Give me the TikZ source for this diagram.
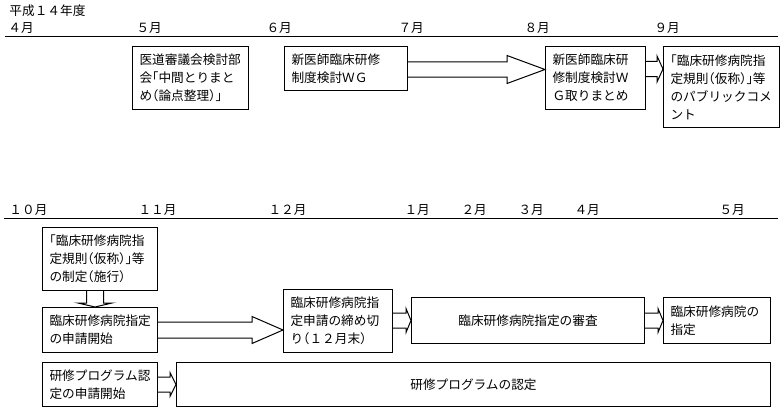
\documentclass[tikz,border=0pt]{standalone}
\usepackage{fontspec}
\setmainfont{Noto Sans CJK JP}[RawFeature=+halt]
\usetikzlibrary{calc}
\tikzset{every picture/.style={line width=0.75pt}}
\tikzset{
  box/.style={draw, anchor=north west, inner xsep=5.25pt, inner ysep=0pt, align=left, font=\fontsize{9.5}{13.5}\selectfont},
  cbox/.style={draw, anchor=north west, inner sep=0pt, align=center, font=\fontsize{9.5}{13.5}\selectfont},
  month/.style={anchor=west, inner sep=0pt, font=\fontsize{9.5}{12}\selectfont}
}
% fat arrow: from, to, y level, head length, half shaft, half head
\newcommand{\fatarrow}[6]{%
  \draw ($(#1.east|-0,#3)+(0,-#5)$) -- ($(#2.west|-0,#3)+(-#4,-#5)$) -- ($(#2.west|-0,#3)+(-#4,-#6)$)
    -- (#2.west|-0,#3) -- ($(#2.west|-0,#3)+(-#4,#6)$) -- ($(#2.west|-0,#3)+(-#4,#5)$) -- ($(#1.east|-0,#3)+(0,#5)$);
}

\begin{document}
\begin{tikzpicture}[x=0.75pt,y=0.75pt,yscale=-1]
\useasboundingbox (0,0) rectangle (784,410);

% Text Node
\node[month] (nendo) at (9,11) {平成１４年度};
% month row 1
\node[month] (apr) at (8,28.5) {４月};
\node[month] (may) at (136,28.5) {５月};
\node[month] (jun) at (266,28.5) {６月};
\node[month] (jul) at (398,28.5) {７月};
\node[month] (aug) at (524,28.5) {８月};
\node[month] (sep) at (654,28.5) {９月};
%Straight Lines
\draw (5,37) -- (778,37);

%Shape: boxes row 1
\node[box, text width=76.5pt, minimum height=47.25pt] (bukai) at (132,46) {医道審議会検討部\\会「中間とりまと\\め（論点整理）」};
\node[box, text width=81.75pt, minimum height=33pt] (wg) at (284,46) {新医師臨床研修\\制度検討ＷＧ};
\node[box, text width=64.5pt, minimum height=47.25pt] (wgmatome) at (545,46) {新医師臨床研\\修制度検討Ｗ\\Ｇ取りまとめ};
\node[box, text width=76.5pt, minimum height=60.75pt] (pubcom) at (663,46) {「臨床研修病院指\\定規則（仮称）」等\\のパブリックコメ\\ント};

% arrows row 1
\fatarrow{wg}{wgmatome}{69.5}{38}{7.5}{14}
\fatarrow{wgmatome}{pubcom}{69}{6}{7.5}{13}

% month row 2
\node[month] (oct) at (9,210.5) {１０月};
\node[month] (nov) at (138,210.5) {１１月};
\node[month] (dec) at (268,210.5) {１２月};
\node[month] (jan) at (404,210.5) {１月};
\node[month] (feb) at (461,210.5) {２月};
\node[month] (mar) at (518,210.5) {３月};
\node[month] (apr2) at (574,210.5) {４月};
\node[month] (may2) at (719,210.5) {５月};
%Straight Lines
\draw (4,218) -- (778,218);

%Shape: boxes row 2
\node[box, text width=75.75pt, minimum height=47.25pt] (seitei) at (42,227) {「臨床研修病院指\\定規則（仮称）」等\\の制定（施行）};
\node[box, text width=75.75pt, minimum height=33.75pt] (shinsei) at (42,307) {臨床研修病院指定\\の申請開始};
\node[box, text width=71.25pt, minimum height=47.25pt] (shimekiri) at (283,289) {臨床研修病院指\\定申請の締め切\\り（１２月末）};
\node[cbox, minimum width=174.75pt, minimum height=34.5pt] (shinsa) at (411,297) {臨床研修病院指定の審査};
\node[box, text width=69.75pt, minimum height=34.5pt] (shitei) at (663,297) {臨床研修病院の\\指定};
\node[box, text width=75.75pt, minimum height=33pt] (pshinsei) at (42,362) {研修プログラム認\\定の申請開始};
\node[cbox, minimum width=445.5pt, minimum height=33pt] (pnintei) at (176,362) {研修プログラムの認定};

% arrows row 2
\draw ($(95,0|-seitei.south)+(-8.5,0)$) -- ($(95,0|-shinsei.north)+(-8.5,-4)$) -- ($(95,0|-shinsei.north)+(-17,-4)$)
  -- (95,0|-shinsei.north) -- ($(95,0|-shinsei.north)+(17,-4)$) -- ($(95,0|-shinsei.north)+(8.5,-4)$) -- ($(95,0|-seitei.south)+(8.5,0)$);
\fatarrow{shinsei}{shimekiri}{330}{31}{8}{13.5}
\fatarrow{shimekiri}{shinsa}{320.5}{5}{7.5}{12}
\fatarrow{shinsa}{shitei}{320.5}{5}{7.5}{12}
\fatarrow{pshinsei}{pnintei}{384.5}{6}{7.5}{12}

\end{tikzpicture}
\end{document}
